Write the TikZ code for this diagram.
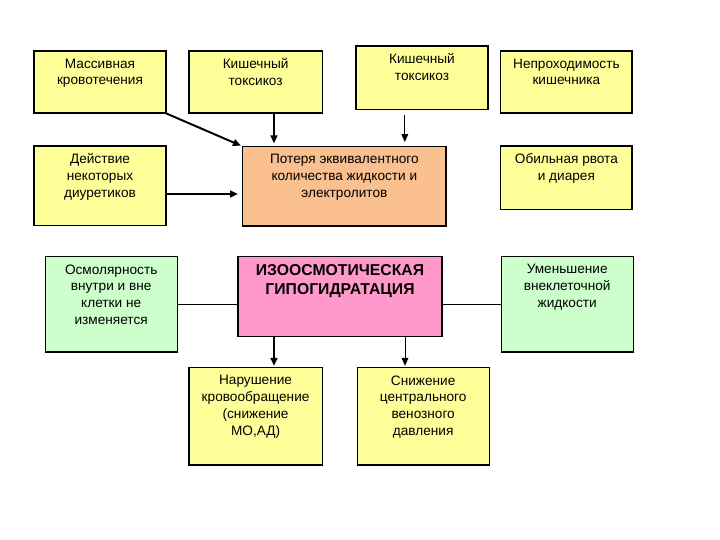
\documentclass[tikz,border=0pt]{standalone}
\usepackage{fontspec}
\setmainfont{Liberation Sans}
\usetikzlibrary{arrows.meta, calc}
\definecolor{boxYellow}{HTML}{FFFF99}
\definecolor{boxPeach}{HTML}{FAC090}
\definecolor{boxPink}{HTML}{FF99CC}
\definecolor{boxGreen}{HTML}{CCFFCC}
\tikzset{
  font=\fontsize{9.7}{12}\selectfont,
  box/.style={rectangle, draw=black, line width=0.8pt, inner sep=0pt, minimum width=3.3cm},
  cause/.style={box, fill=boxYellow, minimum height=1.55cm},
  loss/.style={box, fill=boxPeach, minimum width=5.08cm, minimum height=1.98cm},
  core/.style={box, fill=boxPink, minimum width=5.1cm, minimum height=2.0cm},
  sign/.style={box, fill=boxGreen, minimum height=2.38cm},
  effect/.style={box, fill=boxYellow, minimum height=2.43cm},
  txt/.style={anchor=north, align=center, inner sep=0pt, yshift=-0.2cm},
  heavy/.style={-{Triangle[length=2mm, width=1.7mm]}, line width=1.4pt},
  light/.style={-{Triangle[length=2mm, width=1.7mm]}, line width=0.7pt},
  link/.style={line width=0.7pt},
}

\begin{document}
\begin{tikzpicture}
  \useasboundingbox (0,0) rectangle (18,13.5);

  % --- causes (top rows) ---
  \node[cause, label={[txt]north:{Массивная\\ кровотечения}}] (mass) at (2.5, 11.45) {};
  \node[cause, minimum width=3.33cm, label={[txt]north:{Кишечный\\ токсикоз}}] (toxA) at (6.39, 11.45) {};
  \node[cause, minimum height=1.58cm, label={[txt]north:{Кишечный\\ токсикоз}}] (toxB) at (10.55, 11.56) {};
  \node[cause, minimum width=3.28cm, label={[txt]north:{Непроходимость\\ кишечника}}] (ileus) at (14.16, 11.45) {};
  \node[cause, minimum height=1.98cm, label={[txt]north:{Действие\\ некоторых\\ диуретиков}}] (diur) at (2.5, 8.86) {};
  \node[loss, label={[txt]north:{Потеря эквивалентного\\ количества жидкости и\\ электролитов}}] (loss) at (8.61, 8.84) {};
  \node[cause, minimum width=3.28cm, minimum height=1.58cm, label={[txt]north:{Обильная рвота\\ и диарея}}] (vomit) at (14.16, 9.06) {};

  % --- core state and its signs ---
  \node[sign, label={[txt]north:{Осмолярность\\ внутри и вне\\ клетки не\\ изменяется}}] (osm) at (2.78, 5.89) {};
  \node[core, label={[txt, font=\fontsize{11.2}{13.5}\selectfont\bfseries]north:{ИЗООСМОТИЧЕСКАЯ\\ ГИПОГИДРАТАЦИЯ}}] (iso) at (8.5, 6.08) {};
  \node[sign, label={[txt]north:{Уменьшение\\ внеклеточной\\ жидкости}}] (ecf) at (14.18, 5.89) {};

  % --- effects ---
  \node[effect, minimum width=3.33cm, label={[txt]north:{Нарушение\\ кровообращение\\ (снижение\\ МО,АД)}}] (circ) at (6.39, 3.09) {};
  \node[effect, label={[txt]north:{Снижение\\ центрального\\ венозного\\ давления}}] (cvp) at (10.58, 3.09) {};

  % --- arrow start points ---
  \coordinate (ta) at ($(toxA.south)+(0.46,0)$);
  \coordinate (tb) at ($(toxB.south)+(-0.43,-0.12)$);
  \coordinate (dv) at ($(diur.east)+(0,-0.21)$);
  \coordinate (ic) at ($(iso.south)+(-1.65,0)$);
  \coordinate (iv) at ($(iso.south)+(1.625,0)$);

  % --- connectors ---
  \draw[heavy, shorten >=1pt] (mass.south east) -- (loss.north west);
  \draw[heavy, shorten >=2pt] (ta) -- (ta |- loss.north);
  \draw[light, shorten >=3pt] (tb) -- (tb |- loss.north);
  \draw[heavy, shorten >=3pt] (dv) -- (dv -| loss.west);
  \draw[link] (osm.east) -- (osm.east -| iso.west);
  \draw[link] (iso.east |- ecf.west) -- (ecf.west);
  \draw[heavy, shorten >=1pt] (ic) -- (ic |- circ.north);
  \draw[light, shorten >=1pt] (iv) -- (iv |- cvp.north);
\end{tikzpicture}
\end{document}
